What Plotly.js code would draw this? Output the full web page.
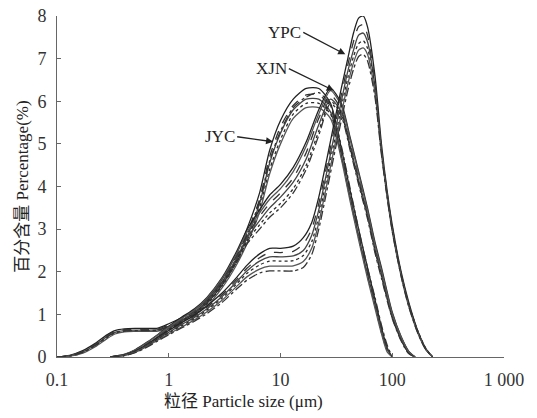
<!DOCTYPE html>
<html>
<head>
<meta charset="utf-8">
<script src="https://cdn.plot.ly/plotly-3.0.1.min.js"></script>
<style>html,body{margin:0;padding:0;background:#fff;}#chart{width:537px;height:418px;}</style>
</head>
<body>
<div id="chart"></div>
<script>
// Particle size (µm) grids per group
var jycX = [0.1, 0.13, 0.17, 0.22, 0.28, 0.33, 0.4, 0.5, 0.65, 0.8, 1, 1.3, 1.7, 2.2, 3, 4, 5, 6.5, 8, 10, 13, 17, 22, 28, 35, 42, 50, 60, 70, 80, 90, 100];
var jyc1 = [0, 0.04, 0.15, 0.32, 0.52, 0.62, 0.66, 0.67, 0.67, 0.68, 0.78, 0.92, 1.1, 1.36, 1.82, 2.4, 3.0, 3.85, 4.85, 5.55, 6.05, 6.3, 6.3, 5.95, 4.9, 3.9, 3.0, 2.1, 1.35, 0.7, 0.22, 0];
var jyc2 = [0, 0.03, 0.13, 0.3, 0.5, 0.6, 0.64, 0.65, 0.65, 0.66, 0.75, 0.89, 1.06, 1.31, 1.76, 2.32, 2.9, 3.7, 4.7, 5.4, 5.9, 6.15, 6.15, 5.85, 4.8, 3.8, 2.9, 2.0, 1.3, 0.65, 0.2, 0];
var jyc3 = [0, 0.03, 0.12, 0.28, 0.48, 0.58, 0.62, 0.63, 0.63, 0.64, 0.72, 0.86, 1.03, 1.27, 1.7, 2.25, 2.8, 3.6, 4.55, 5.25, 5.8, 6.05, 6.05, 5.75, 4.75, 3.75, 2.85, 1.95, 1.25, 0.6, 0.18, 0];
var jyc4 = [0, 0.02, 0.1, 0.26, 0.45, 0.56, 0.6, 0.61, 0.61, 0.62, 0.7, 0.84, 1.0, 1.24, 1.66, 2.2, 2.72, 3.5, 4.4, 5.1, 5.7, 5.95, 5.95, 5.7, 4.7, 3.7, 2.8, 1.9, 1.2, 0.58, 0.15, 0];
var jyc5 = [0, 0.02, 0.09, 0.24, 0.43, 0.54, 0.59, 0.6, 0.6, 0.61, 0.68, 0.82, 0.98, 1.2, 1.62, 2.14, 2.65, 3.4, 4.3, 5.0, 5.6, 5.85, 5.85, 5.6, 4.65, 3.65, 2.75, 1.85, 1.15, 0.55, 0.12, 0];
var jyc6 = [0, 0.03, 0.11, 0.27, 0.47, 0.57, 0.61, 0.62, 0.62, 0.63, 0.72, 0.87, 1.05, 1.3, 1.75, 2.3, 2.85, 3.65, 4.6, 5.3, 5.85, 6.1, 6.2, 5.9, 4.95, 3.95, 3.0, 2.1, 1.4, 0.75, 0.28, 0];

var xjnX = [0.3, 0.4, 0.5, 0.65, 0.8, 1, 1.3, 1.7, 2.2, 3, 4, 5, 6.5, 8, 10, 13, 17, 22, 28, 35, 42, 50, 60, 70, 80, 100, 120, 140, 160];
var xjn1 = [0, 0.06, 0.17, 0.36, 0.53, 0.72, 0.93, 1.13, 1.4, 1.86, 2.45, 2.98, 3.45, 3.8, 4.05, 4.45, 5.05, 5.8, 6.3, 5.95, 5.15, 4.35, 3.5, 2.7, 2.1, 1.05, 0.48, 0.14, 0];
var xjn2 = [0, 0.05, 0.15, 0.33, 0.5, 0.68, 0.88, 1.08, 1.35, 1.8, 2.35, 2.85, 3.3, 3.6, 3.85, 4.2, 4.8, 5.6, 6.15, 5.8, 5.0, 4.2, 3.4, 2.6, 2.0, 1.0, 0.45, 0.12, 0];
var xjn3 = [0, 0.05, 0.14, 0.31, 0.48, 0.66, 0.86, 1.05, 1.32, 1.76, 2.3, 2.78, 3.2, 3.5, 3.75, 4.1, 4.65, 5.45, 6.05, 5.75, 4.95, 4.15, 3.35, 2.55, 1.95, 0.95, 0.42, 0.1, 0];
var xjn4 = [0, 0.04, 0.13, 0.3, 0.46, 0.64, 0.84, 1.03, 1.3, 1.73, 2.25, 2.72, 3.1, 3.38, 3.6, 3.95, 4.5, 5.3, 6.0, 5.7, 4.9, 4.1, 3.3, 2.5, 1.9, 0.92, 0.4, 0.1, 0];
var xjn5 = [0, 0.06, 0.16, 0.35, 0.52, 0.7, 0.9, 1.1, 1.38, 1.84, 2.4, 2.92, 3.38, 3.7, 3.95, 4.35, 4.95, 5.7, 6.25, 5.9, 5.1, 4.3, 3.45, 2.65, 2.05, 1.02, 0.47, 0.13, 0];
var xjn6 = [0, 0.04, 0.12, 0.28, 0.45, 0.62, 0.82, 1.0, 1.26, 1.68, 2.2, 2.65, 3.0, 3.28, 3.5, 3.85, 4.4, 5.2, 5.95, 5.65, 4.85, 4.05, 3.25, 2.45, 1.85, 0.9, 0.38, 0.08, 0];

var ypcX = [0.3, 0.4, 0.5, 0.65, 0.8, 1, 1.3, 1.7, 2.2, 3, 4, 5, 6.5, 8, 10, 13, 16, 19, 22, 26, 30, 35, 40, 45, 50, 55, 60, 70, 80, 90, 100, 120, 140, 170, 200, 230];
var ypc1 = [0, 0.05, 0.14, 0.3, 0.46, 0.62, 0.8, 0.98, 1.2, 1.5, 1.85, 2.15, 2.42, 2.55, 2.55, 2.6, 2.8, 3.15, 3.75, 4.65, 5.45, 6.3, 7.0, 7.6, 7.95, 8.0, 7.75, 6.6, 5.0, 3.9, 3.1, 2.0, 1.3, 0.6, 0.2, 0];
var ypc2 = [0, 0.05, 0.13, 0.29, 0.45, 0.6, 0.78, 0.96, 1.17, 1.46, 1.8, 2.08, 2.33, 2.45, 2.45, 2.48, 2.65, 3.0, 3.6, 4.5, 5.3, 6.15, 6.85, 7.4, 7.75, 7.8, 7.55, 6.45, 4.9, 3.85, 3.05, 1.95, 1.25, 0.58, 0.18, 0];
var ypc3 = [0, 0.04, 0.12, 0.28, 0.43, 0.58, 0.76, 0.93, 1.13, 1.42, 1.75, 2.02, 2.25, 2.35, 2.35, 2.37, 2.5, 2.85, 3.45, 4.35, 5.15, 6.0, 6.7, 7.2, 7.55, 7.6, 7.4, 6.35, 4.85, 3.8, 3.0, 1.95, 1.25, 0.58, 0.18, 0];
var ypc4 = [0, 0.04, 0.12, 0.27, 0.42, 0.56, 0.73, 0.9, 1.1, 1.38, 1.7, 1.96, 2.16, 2.25, 2.25, 2.26, 2.38, 2.7, 3.3, 4.2, 5.0, 5.85, 6.55, 7.05, 7.35, 7.42, 7.25, 6.3, 4.85, 3.8, 3.0, 1.95, 1.25, 0.6, 0.2, 0];
var ypc5 = [0, 0.04, 0.11, 0.26, 0.4, 0.54, 0.7, 0.87, 1.06, 1.33, 1.64, 1.88, 2.06, 2.13, 2.13, 2.14, 2.24, 2.55, 3.15, 4.05, 4.85, 5.7, 6.4, 6.9, 7.2, 7.25, 7.1, 6.2, 4.8, 3.75, 2.95, 1.9, 1.2, 0.55, 0.17, 0];
var ypc6 = [0, 0.03, 0.1, 0.24, 0.38, 0.52, 0.68, 0.84, 1.02, 1.28, 1.58, 1.8, 1.97, 2.02, 2.02, 2.02, 2.1, 2.4, 3.0, 3.9, 4.7, 5.55, 6.25, 6.75, 7.05, 7.1, 6.95, 6.1, 4.75, 3.75, 2.95, 1.9, 1.2, 0.55, 0.17, 0];

var xTickVals = [0.1, 1, 10, 100, 1000];
var xTickText = ['0.1', '1', '10', '100', '1 000'];
var yTickVals = [0, 1, 2, 3, 4, 5, 6, 7, 8];

var groups = [
  {name: 'JYC', x: jycX, ys: [jyc1, jyc2, jyc3, jyc4, jyc5, jyc6]},
  {name: 'XJN', x: xjnX, ys: [xjn1, xjn2, xjn3, xjn4, xjn5, xjn6]},
  {name: 'YPC', x: ypcX, ys: [ypc1, ypc2, ypc3, ypc4, ypc5, ypc6]}
];
var dashes = ['solid', 'dash', 'solid', 'dot', 'solid', 'dashdot'];
var colors = ['#222', '#333', '#444', '#2a2a2a', '#555', '#333'];

var traces = [];
groups.forEach(function (g) {
  g.ys.forEach(function (y, i) {
    traces.push({
      x: g.x, y: y, type: 'scatter', mode: 'lines', name: g.name + (i + 1),
      line: {color: colors[i], width: 1.3, dash: dashes[i], shape: 'spline', smoothing: 0.7},
      hoverinfo: 'skip'
    });
  });
});

var serif = 'Liberation Serif, Times New Roman, Noto Sans CJK SC, serif';
var arrowStyle = {showarrow: true, arrowhead: 2, arrowsize: 1.1, arrowwidth: 1.3, arrowcolor: '#222',
  font: {family: serif, size: 17, color: '#222'}, xref: 'x', yref: 'y', axref: 'pixel', ayref: 'pixel'};

var annotations = [
  Object.assign({}, arrowStyle, {text: 'YPC', x: Math.log10(38), y: 7.1, ax: -42, ay: -22, xanchor: 'right'}),
  Object.assign({}, arrowStyle, {text: 'XJN', x: Math.log10(30), y: 6.25, ax: -45, ay: -22, xanchor: 'right'}),
  Object.assign({}, arrowStyle, {text: 'JYC', x: Math.log10(8.6), y: 5.05, ax: -36, ay: -5, xanchor: 'right'}),
  {text: '粒径 Particle size (μm)', xref: 'paper', yref: 'paper', x: (243 - 57) / 447, y: 0,
   yshift: -44, yanchor: 'middle', xanchor: 'center', showarrow: false,
   font: {family: serif, size: 17, color: '#222'}}
];

var layout = {
  width: 537, height: 418,
  margin: {l: 57, r: 33, t: 16, b: 61},
  paper_bgcolor: '#fff', plot_bgcolor: '#fff',
  showlegend: false,
  font: {family: serif, size: 17, color: '#222'},
  xaxis: {
    type: 'log', range: [-1, 3],
    tickvals: xTickVals, ticktext: xTickText,
    ticks: 'inside', ticklen: 4, tickcolor: '#666',
    showline: true, linecolor: '#666', linewidth: 1,
    showgrid: false, zeroline: false,
    tickfont: {family: serif, size: 18, color: '#333'},
    ticklabelstandoff: 6
  },
  yaxis: {
    range: [0, 8], tickvals: yTickVals,
    ticks: 'inside', ticklen: 4, tickcolor: '#666',
    showline: true, linecolor: '#666', linewidth: 1,
    showgrid: false, zeroline: false,
    tickfont: {family: serif, size: 18, color: '#333'},
    ticklabelstandoff: 6,
    title: {text: '百分含量 Percentage(%)', font: {family: serif, size: 17, color: '#222'}, standoff: 4}
  },
  annotations: annotations
};

Plotly.newPlot('chart', traces, layout, {staticPlot: true, displayModeBar: false});
</script>
</body>
</html>
